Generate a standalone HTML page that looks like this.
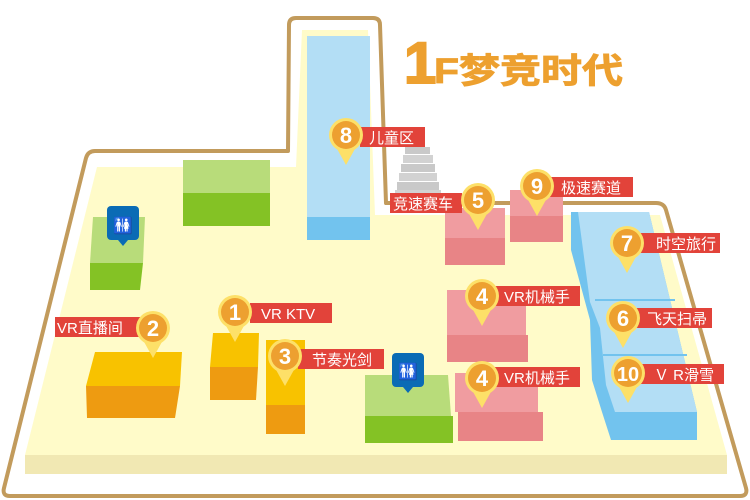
<!DOCTYPE html>
<html><head><meta charset="utf-8"><style>
html,body{margin:0;padding:0;background:#fff;}
svg{display:block}
text{font-family:"Liberation Sans","Noto Sans CJK SC",sans-serif;}
</style></head><body>
<svg width="750" height="500" viewBox="0 0 750 500" xmlns="http://www.w3.org/2000/svg">
<path d="M296,18 L373,18 Q380,18 380,25 L386,203 L656,203 Q664,203 666,210 L746,488 Q748,496 740,496 L10,496 Q2,496 4,488 L86,158 Q88,151 95,151 L288,151 L289,25 Q289,18 296,18 Z" fill="#fff" stroke="#c29b5c" stroke-width="4" stroke-linejoin="round"/>
<polygon points="97,167 296,167 302,30 368,30 375,215 660,215 727,455 25,455" fill="#fffbc9"/>
<rect x="25" y="455" width="702" height="19" fill="#f1e8b3"/>
<text x="404" y="83" font-size="58" font-weight="bold" fill="#eda02f" stroke="#eda02f" stroke-width="2">1</text>
<g transform="translate(434,83) scale(1,0.85)"><text x="0" y="0" font-size="41" font-weight="bold" fill="#eda02f" stroke="#eda02f" stroke-width="1">F梦竞时代</text></g>
<rect x="183" y="160" width="87" height="33" fill="#b8dc7a"/>
<rect x="183" y="193" width="87" height="33" fill="#84c225"/>
<polygon points="93,217 145,217 143,263 90,263" fill="#b8dc7a"/>
<polygon points="90,263 143,263 140,290 90,290" fill="#84c225"/>
<rect x="107" y="206" width="32" height="34" rx="4" fill="#0a6bb5"/>
<polygon points="118,240 128,240 123,246" fill="#0a6bb5"/>
<text x="123" y="231" font-size="16" fill="#fff" text-anchor="middle">🚻</text>
<rect x="307" y="36" width="63" height="181" fill="#b3def5"/>
<rect x="307" y="217" width="63" height="23" fill="#72c3ee"/>
<g fill="#c9c9c9">
<rect x="405" y="147" width="25" height="7"/>
<rect x="403" y="155" width="30" height="8" fill="#d2d2d2"/>
<rect x="401" y="164" width="34" height="8"/>
<rect x="399" y="173" width="38" height="8" fill="#d2d2d2"/>
<rect x="397" y="182" width="42" height="8"/>
<rect x="395" y="190" width="46" height="8" fill="#d2d2d2"/>
</g>
<rect x="445" y="208" width="60" height="30" fill="#f09ca0"/>
<rect x="445" y="238" width="60" height="27" fill="#e88486"/>
<rect x="510" y="190" width="53" height="26" fill="#f09ca0"/>
<rect x="510" y="216" width="53" height="26" fill="#e88486"/>
<rect x="447" y="290" width="79" height="45" fill="#f09ca0"/>
<rect x="447" y="335" width="81" height="27" fill="#e88486"/>
<rect x="455" y="373" width="83" height="39" fill="#f09ca0"/>
<rect x="458" y="412" width="85" height="29" fill="#e88486"/>
<polygon points="571,212 649,212 697,412 697,440 611,440 602,412 592,380 590,320 571,250" fill="#72c3ee"/>
<polygon points="578,212 649,212 697,412 615,412 606,385 600,328 590,302" fill="#b3def5"/>
<line x1="595" y1="300" x2="675" y2="300" stroke="#72c3ee" stroke-width="2"/>
<line x1="603" y1="355" x2="687" y2="355" stroke="#72c3ee" stroke-width="2"/>
<polygon points="95,352 182,352 180,386 86,386" fill="#f8c200"/>
<polygon points="86,386 180,386 175,418 87,418" fill="#ee9b11"/>
<polygon points="213,333 259,333 258,367 210,367" fill="#f8c200"/>
<polygon points="210,367 258,367 256,400 210,400" fill="#ee9b11"/>
<rect x="266" y="340" width="39" height="65" fill="#f8c200"/>
<rect x="266" y="405" width="39" height="29" fill="#ee9b11"/>
<polygon points="365,375 448,375 451,416 365,416" fill="#b8dc7a"/>
<rect x="365" y="416" width="88" height="27" fill="#84c225"/>
<rect x="392" y="353" width="32" height="34" rx="4" fill="#0a6bb5"/>
<polygon points="403,387 413,387 408,393" fill="#0a6bb5"/>
<text x="408" y="377" font-size="16" fill="#fff" text-anchor="middle">🚻</text>

<g font-size="15" fill="#fff">
<rect x="360" y="127" width="65" height="20" fill="#e2433a"/><text x="369" y="143">儿童区</text>
<rect x="390" y="193" width="72" height="20" fill="#e2433a"/><text x="393" y="209">竞速赛车</text>
<rect x="548" y="177" width="85" height="20" fill="#e2433a"/><text x="561" y="193">极速赛道</text>
<rect x="640" y="233" width="80" height="20" fill="#e2433a"/><text x="656" y="249">时空旅行</text>
<rect x="632" y="308" width="80" height="20" fill="#e2433a"/><text x="647" y="324">飞天扫帚</text>
<rect x="640" y="364" width="84" height="20" fill="#e2433a"/><text x="654" y="380">Ｖ R滑雪</text>
<rect x="495" y="286" width="85" height="20" fill="#e2433a"/><text x="504" y="302">VR机械手</text>
<rect x="495" y="367" width="85" height="20" fill="#e2433a"/><text x="504" y="383">VR机械手</text>
<rect x="250" y="303" width="82" height="20" fill="#e2433a"/><text x="261" y="319">VR KTV</text>
<rect x="55" y="317" width="90" height="20" fill="#e2433a"/><text x="57" y="333">VR直播间</text>
<rect x="298" y="349" width="86" height="20" fill="#e2433a"/><text x="312" y="365">节奏光剑</text>
</g>

<defs>
<g id="pin">
<polygon points="-10,12 10,12 0,30" fill="#fde068"/>
<circle cx="0" cy="0" r="17" fill="#fde068"/>
<circle cx="0" cy="0" r="14" fill="#eda030"/>
</g>
</defs>
<g font-size="22" font-weight="bold" fill="#fff" text-anchor="middle">
<use href="#pin" x="346" y="135"/><text x="346" y="143">8</text>
<use href="#pin" x="478" y="200"/><text x="478" y="208">5</text>
<use href="#pin" x="537" y="186"/><text x="537" y="194">9</text>
<use href="#pin" x="627" y="243"/><text x="627" y="251">7</text>
<use href="#pin" x="623" y="318"/><text x="623" y="326">6</text>
<use href="#pin" x="628" y="373"/><text x="628" y="381" font-size="20">10</text>
<use href="#pin" x="482" y="296"/><text x="482" y="304">4</text>
<use href="#pin" x="482" y="378"/><text x="482" y="386">4</text>
<use href="#pin" x="235" y="312"/><text x="235" y="320">1</text>
<use href="#pin" x="153" y="328"/><text x="153" y="336">2</text>
<use href="#pin" x="285" y="356"/><text x="285" y="364">3</text>
</g>
</svg>
</body></html>
